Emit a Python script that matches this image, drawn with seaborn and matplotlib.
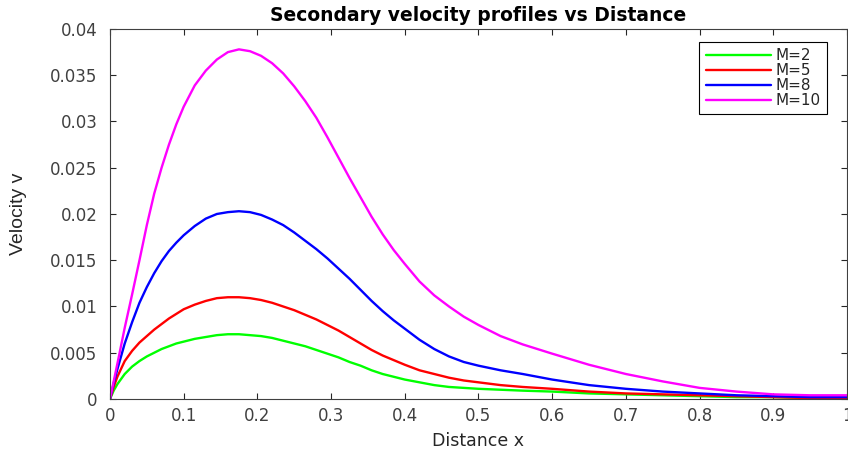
import numpy as np
import pandas as pd
import matplotlib
matplotlib.use("Agg")
import matplotlib.pyplot as plt
import seaborn as sns

# Data
x_vals = [0.0, 0.005, 0.01, 0.02, 0.03, 0.04, 0.05, 0.06, 0.07, 0.08, 0.09, 0.10,
          0.115, 0.13, 0.145, 0.16, 0.175, 0.19, 0.205, 0.22, 0.235, 0.25,
          0.265, 0.28, 0.295, 0.31, 0.325, 0.34, 0.355, 0.37, 0.385, 0.40,
          0.42, 0.44, 0.46, 0.48, 0.50, 0.53, 0.56, 0.60, 0.65, 0.70,
          0.75, 0.80, 0.85, 0.90, 0.95, 1.0]

v_m2 = [0.0, 0.0009, 0.0016, 0.0027, 0.0035, 0.0041, 0.0046, 0.0050, 0.0054, 0.0057, 0.0060, 0.0062,
        0.0065, 0.0067, 0.0069, 0.0070, 0.0070, 0.0069, 0.0068, 0.0066, 0.0063, 0.0060,
        0.0057, 0.0053, 0.0049, 0.0045, 0.0040, 0.0036, 0.0031, 0.0027, 0.0024, 0.0021,
        0.0018, 0.0015, 0.0013, 0.0012, 0.0011, 0.0010, 0.0009, 0.0008, 0.0006, 0.0005,
        0.0004, 0.0003, 0.0002, 0.0002, 0.0001, 0.0001]

v_m5 = [0.0, 0.0013, 0.0024, 0.0041, 0.0052, 0.0061, 0.0068, 0.0075, 0.0081, 0.0087, 0.0092, 0.0097,
        0.0102, 0.0106, 0.0109, 0.0110, 0.0110, 0.0109, 0.0107, 0.0104, 0.0100, 0.0096,
        0.0091, 0.0086, 0.0080, 0.0074, 0.0067, 0.0060, 0.0053, 0.0047, 0.0042, 0.0037,
        0.0031, 0.0027, 0.0023, 0.0020, 0.0018, 0.0015, 0.0013, 0.0011, 0.0008, 0.0006,
        0.0005, 0.0004, 0.0003, 0.0002, 0.0001, 0.0001]

v_m8 = [0.0, 0.0017, 0.0032, 0.0060, 0.0083, 0.0104, 0.0121, 0.0136, 0.0149, 0.0160, 0.0169, 0.0177,
        0.0187, 0.0195, 0.0200, 0.0202, 0.0203, 0.0202, 0.0199, 0.0194, 0.0188, 0.0180,
        0.0171, 0.0162, 0.0152, 0.0141, 0.0130, 0.0118, 0.0106, 0.0095, 0.0085, 0.0076,
        0.0064, 0.0054, 0.0046, 0.0040, 0.0036, 0.0031, 0.0027, 0.0021, 0.0015, 0.0011,
        0.0008, 0.0006, 0.0004, 0.0003, 0.0002, 0.0002]

v_m10 = [0.0, 0.0019, 0.0038, 0.0077, 0.0113, 0.0150, 0.0188, 0.0222, 0.0250, 0.0275, 0.0297, 0.0316,
         0.0339, 0.0355, 0.0367, 0.0375, 0.0378, 0.0376, 0.0371, 0.0363, 0.0352, 0.0338,
         0.0322, 0.0304, 0.0283, 0.0261, 0.0239, 0.0218, 0.0197, 0.0178, 0.0161, 0.0146,
         0.0127, 0.0112, 0.0100, 0.0089, 0.0080, 0.0068, 0.0059, 0.0049, 0.0037, 0.0027,
         0.0019, 0.0012, 0.0008, 0.0005, 0.0004, 0.0004]

labels = ["M=2", "M=5", "M=8", "M=10"]
colors = ["#00ff00", "#ff0000", "#0000ff", "#ff00ff"]

x_ticks = [0, 0.1, 0.2, 0.3, 0.4, 0.5, 0.6, 0.7, 0.8, 0.9, 1.0]
x_ticklabels = ["0", "0.1", "0.2", "0.3", "0.4", "0.5", "0.6", "0.7", "0.8", "0.9", "1"]
y_ticks = [0, 0.005, 0.01, 0.015, 0.02, 0.025, 0.03, 0.035, 0.04]
y_ticklabels = ["0", "0.005", "0.01", "0.015", "0.02", "0.025", "0.03", "0.035", "0.04"]

series = [v_m2, v_m5, v_m8, v_m10]
for s in series:
    assert len(s) == len(x_vals)

frames = []
for lab, vals in zip(labels, series):
    frames.append(pd.DataFrame({"x": x_vals, "v": vals, "M": lab}))
df = pd.concat(frames, ignore_index=True)

sns.set_style("ticks")
plt.rcParams["font.family"] = ["DejaVu Sans"]

fig = plt.figure(figsize=(8.48, 4.49), dpi=100)
ax = fig.add_axes([0.1297, 0.1114, 0.8691, 0.824])

sns.lineplot(data=df, x="x", y="v", hue="M", hue_order=labels,
             palette=dict(zip(labels, colors)), linewidth=1.7, ax=ax)

ax.set_xlim(0, 1)
ax.set_ylim(0, 0.04)
ax.set_xticks(x_ticks)
ax.set_xticklabels(x_ticklabels)
ax.set_yticks(y_ticks)
ax.set_yticklabels(y_ticklabels)

tick_color = "#404040"
ax.tick_params(direction="in", length=4, width=0.8, colors="#262626",
               labelcolor=tick_color, labelsize=12, top=True, right=True)
ax.tick_params(axis="x", pad=6)
ax.tick_params(axis="y", pad=9)
for s in ax.spines.values():
    s.set_visible(True)
    s.set_color("#404040")
    s.set_linewidth(0.8)

ax.set_xlabel("Distance x", fontsize=12.5, color="#262626", labelpad=5)
ax.set_ylabel("Velocity v", fontsize=14, color="#262626",
              family=["Liberation Sans", "DejaVu Sans"])
ax.yaxis.set_label_coords(-0.113, 0.5)
ax.set_title("Secondary velocity profiles vs Distance", fontsize=13.5,
             fontweight="bold", color="black", pad=6)

leg = ax.legend(loc="upper right", bbox_to_anchor=(0.973, 0.965), borderaxespad=0,
                frameon=True, fancybox=False, edgecolor="black", fontsize=11,
                handlelength=4.3, labelspacing=0.0, borderpad=0.4,
                handletextpad=0.3, framealpha=1)
leg.get_frame().set_linewidth(0.8)
for t in leg.get_texts():
    t.set_color("#262626")

fig.savefig("out.png", dpi=100)
